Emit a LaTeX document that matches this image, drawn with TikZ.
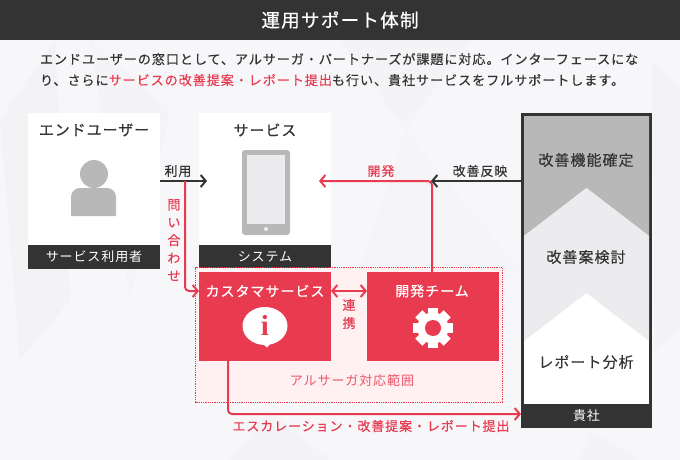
\documentclass[tikz,border=0pt]{standalone}
\usepackage{fontspec}
\setmainfont{Noto Sans CJK JP}
\newfontfamily\jpreg[LetterSpace=7]{Noto Sans CJK JP}
\newfontfamily\jpmed[LetterSpace=7,FakeBold=0.3]{Noto Sans CJK JP}
\newfontfamily\jpheavy[LetterSpace=7,FakeBold=0.6]{Noto Sans CJK JP}
\usetikzlibrary{arrows.meta,calc,positioning}
\definecolor{darkbar}{HTML}{333333}
\definecolor{alred}{HTML}{E83B50}
\definecolor{palered}{HTML}{FFF0F2}
\definecolor{midgrey}{HTML}{B8B8B8}
\definecolor{lightgrey}{HTML}{ECECEE}
\definecolor{backdrop}{HTML}{F7F7FA}

\begin{document}
\begin{tikzpicture}[x=1pt, y=-1pt,
    every node/.style={inner sep=0pt, outer sep=0pt},
    panel/.style={fill=white, anchor=north west, minimum width=132pt, minimum height=156pt},
    caption/.style={fill=darkbar, text=white, anchor=north west, minimum width=132pt, minimum height=24pt, font=\jpreg\fontsize{13}{13}\selectfont},
    redbox/.style={fill=alred, anchor=north west, minimum width=132pt, minimum height=89pt},
    heading/.style={text=darkbar, font=\jpheavy\fontsize{14.9}{15}\selectfont},
    steptext/.style={text=darkbar, font=\jpmed\fontsize{15}{15}\selectfont},
    boxtitle/.style={text=white, font=\jpheavy\fontsize{14}{14}\selectfont},
    flowlabel/.style={text=darkbar, font=\jpmed\fontsize{13}{13}\selectfont},
    redlabel/.style={text=alred, font=\jpmed\fontsize{13}{13}\selectfont},
    darkflow/.style={draw=darkbar, line width=2pt, -{Straight Barb[length=5pt,width=12pt]}},
    redflow/.style={draw=alred, line width=2pt, rounded corners=4pt, -{Straight Barb[length=5pt,width=12pt]}},
    icon/.style={fill=midgrey, draw=none}]
\useasboundingbox (0,0) rectangle (680,460);
\fill[backdrop] (0,0) rectangle (680,460);
% faint facets behind everything
\fill[lightgrey, opacity=.30] (0,120) -- (55,40) -- (70,300) -- (20,360) -- cycle;
\fill[lightgrey, opacity=.20] (90,40) -- (170,110) -- (130,300) -- cycle;
\fill[lightgrey, opacity=.25] (340,40) -- (405,130) -- (470,40) -- cycle;
\fill[lightgrey, opacity=.18] (405,130) -- (360,270) -- (520,270) -- cycle;
\fill[lightgrey, opacity=.30] (652,60) -- (680,90) -- (680,330) -- (655,350) -- cycle;
\fill[lightgrey, opacity=.20] (270,410) -- (330,460) -- (230,460) -- cycle;
\fill[lightgrey, opacity=.20] (590,430) -- (640,460) -- (580,460) -- cycle;

% header and lead text
\fill[darkbar] (0,0) rectangle (680,40);
\node[text=white, font=\jpheavy\fontsize{18.5}{19}\selectfont] (title) at (340,20) {運用サポート体制};
\node[anchor=north west, align=left, text=darkbar, font=\jpmed\fontsize{13.1}{21}\selectfont] (lead) at (40,53)
    {エンドユーザーの窓口として、アルサーガ・パートナーズが課題に対応。インターフェースにな\\
    り、さらに\textcolor{alred}{サービスの改善提案・レポート提出}も行い、貴社サービスをフルサポートします。};

% end user
\node[panel] (user) at (28,113) {};
\node[caption] (userCap) at (28,245) {サービス利用者};
\node[heading] (userName) at (94,130) {エンドユーザー};
\fill[icon] (94,174) circle (14);
\fill[icon] (71,216) -- (71,197) arc (180:270:9) -- (107,188) arc (270:360:9) -- (116,216) -- cycle;

% service
\node[panel] (service) at (199,113) {};
\node[caption] (serviceCap) at (199,245) {システム};
\node[heading] (serviceName) at (265,130) {サービス};
\fill[icon, rounded corners=3pt] (242,150) rectangle (290,235);
\fill[lightgrey] (247,155) rectangle (285,224);
\fill[lightgrey] (266,229) circle (2);

% range of the team
\node[draw=alred, densely dotted, fill=palered, anchor=north west, minimum width=307pt, minimum height=135pt, line width=.8pt] (range) at (195.6,267.7) {};
\node[text=alred, opacity=.85, font=\jpreg\fontsize{13}{13}\selectfont] (rangeName) at (352,381) {アルサーガ対応範囲};

\node[redbox] (care) at (199,272) {};
\node[boxtitle] (careName) at (265,291) {カスタマサービス};
\fill[white] (265,326) ellipse (22.5 and 19);
\fill[white] (262,343) -- (270,344) -- (267,347.5) -- cycle;
\node[text=alred, font=\bfseries\fontspec{Liberation Serif}\fontsize{29}{29}\selectfont] (infoMark) at (265,325) {i};

\node[redbox] (dev) at (367,272) {};
\node[boxtitle] (devName) at (432,291) {開発チーム};
\foreach \a in {0,45,...,315}
    \fill[white, rotate around={\a:(433,328)}] (428,308) rectangle (438,320);
\fill[white] (433,328) circle (15.5);
\fill[alred] (433,328) circle (8);

% our side
\node[draw=darkbar, line width=3pt, fill=white, anchor=north west, minimum width=128pt, minimum height=312pt] (client) at (522.5,114.5) {};
\fill[midgrey] (524,116) -- (649,116) -- (649,236) -- (586.5,188) -- (524,236) -- cycle;
\fill[lightgrey] (524,236) -- (586.5,188) -- (649,236) -- (649,341) -- (586.5,293) -- (524,341) -- cycle;
\node[fill=darkbar, text=white, anchor=north west, minimum width=131pt, minimum height=24pt, font=\jpreg\fontsize{13}{13}\selectfont] (clientCap) at (521,404) {貴社};
\node[steptext] (stepFix) at (586,160) {改善機能確定};
\node[steptext] (stepPlan) at (586,257) {改善案検討};
\node[steptext] (stepReport) at (586,362) {レポート分析};

% connector ends
\coordinate (useFrom) at (160,181);
\coordinate (useTo) at (207,181);
\coordinate (askFrom) at (185,181);
\coordinate (askTo) at (199,291);
\coordinate (linkA) at (331,291);
\coordinate (linkB) at (367,291);
\coordinate (devUp) at (432,272);
\coordinate (devTurn) at (432,181);
\coordinate (devTo) at (319,181);
\coordinate (backFrom) at (521,181);
\coordinate (backTo) at (431,181);
\coordinate (escFrom) at (228,361);
\coordinate (escTo) at (521,414);

\draw[darkflow] (useFrom) -- (useTo);
\draw[redflow] (askFrom) |- (askTo);
\draw[redflow, {Straight Barb[length=5pt,width=12pt]}-{Straight Barb[length=5pt,width=12pt]}] (linkA) -- (linkB);
\draw[redflow] (devUp) -- (devTurn) -- (devTo);
\draw[darkflow] (backFrom) -- (backTo);
\draw[redflow] (escFrom) |- (escTo);

% labels on the connectors
\node[flowlabel] (useLabel) at (178,171) {利用};
\node[redlabel, align=center, font=\jpmed\fontsize{13}{17.8}\selectfont] (askLabel) at (174,240) {問\\い\\合\\わ\\せ};
\node[redlabel, align=center, font=\jpmed\fontsize{13}{18}\selectfont] (linkLabel) at (349,314) {連\\携};
\node[redlabel] (devLabel) at (381,171) {開発};
\node[flowlabel] (backLabel) at (480,171) {改善反映};
\node[redlabel] (escLabel) at (371,426) {エスカレーション・改善提案・レポート提出};
\end{tikzpicture}
\end{document}
